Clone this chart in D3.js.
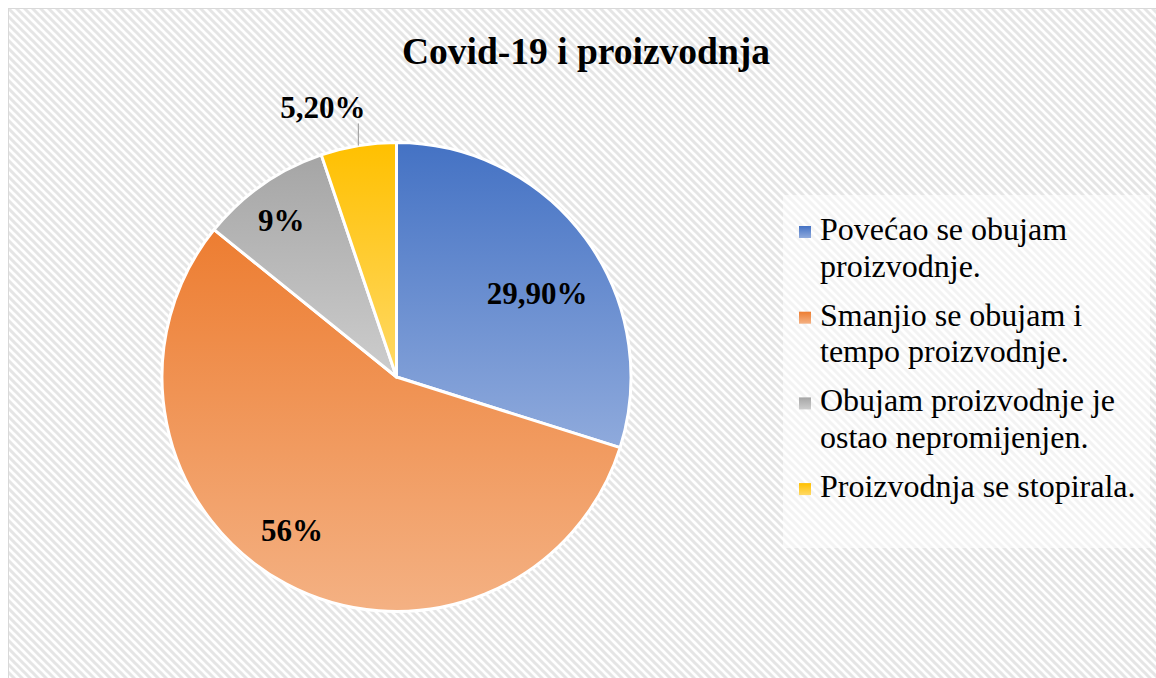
<!DOCTYPE html>
<html>
<head>
<meta charset="utf-8">
<script src="https://cdn.jsdelivr.net/npm/d3@7"></script>
<style>
  body { margin: 0; background: #fff; }
  svg { display: block; font-family: 'Liberation Serif', 'Times New Roman', serif; }
</style>
</head>
<body>
<div id="chart"></div>
<script>
// Covid-19 i proizvodnja - pie chart

const categories = [
    "Povećao se obujam proizvodnje.",
    "Smanjio se obujam i tempo proizvodnje.",
    "Obujam proizvodnje je ostao nepromijenjen.",
    "Proizvodnja se stopirala."
];
const legendLines = [
    ["Povećao se obujam", "proizvodnje."],
    ["Smanjio se obujam i", "tempo proizvodnje."],
    ["Obujam proizvodnje je", "ostao nepromijenjen."],
    ["Proizvodnja se stopirala."]
];
const values = [29.9, 56, 9, 5.2];
const valueLabels = ["29,90%", "56%", "9%", "5,20%"];

const width = 1156;
const height = 678;

// top / bottom colours of each slice gradient
const colorTop = ["#4472C4", "#ED7D31", "#A5A5A5", "#FFC000"];
const colorBottom = ["#8FAADC", "#F4B183", "#CDCDCD", "#FFD966"];

const svg = d3.select("#chart")
    .append("svg")
    .attr("width", width)
    .attr("height", height);

const defs = svg.append("defs");

// hatched chart background
const pat = defs.append("pattern")
    .attr("id", "hatch")
    .attr("patternUnits", "userSpaceOnUse")
    .attr("width", 8)
    .attr("height", 8);
pat.append("rect").attr("width", 8).attr("height", 8).attr("fill", "#fff");
pat.append("path")
    .attr("d", "M-2,-2 L10,10 M-2,6 L2,10 M6,-2 L10,2")
    .attr("stroke", "#e5e5e5")
    .attr("stroke-width", 3);

colorTop.forEach((c, i) => {
    const g = defs.append("linearGradient")
        .attr("id", "grad" + i)
        .attr("x1", 0).attr("y1", 0).attr("x2", 0).attr("y2", 1);
    g.append("stop").attr("offset", "0%").attr("stop-color", c);
    g.append("stop").attr("offset", "100%").attr("stop-color", colorBottom[i]);
});

svg.append("rect")
    .attr("x", 8.5).attr("y", 8.5)
    .attr("width", width).attr("height", height)
    .attr("fill", "url(#hatch)")
    .attr("stroke", "#d9d9d9")
    .attr("stroke-width", 1);

// title
svg.append("text")
    .attr("x", 586)
    .attr("y", 64)
    .attr("text-anchor", "middle")
    .style("font-size", "37.5px")
    .style("font-weight", "bold")
    .text("Covid-19 i proizvodnja");

// pie
const cx = 396.5, cy = 377, r = 234.5;

const pie = d3.pie().sort(null).value(d => d);
const arcs = pie(values);
const arc = d3.arc().innerRadius(0).outerRadius(r);

const g = svg.append("g").attr("transform", `translate(${cx},${cy})`);

g.selectAll("path.slice")
    .data(arcs)
    .join("path")
    .attr("class", "slice")
    .attr("d", arc)
    .attr("fill", (d, i) => `url(#grad${i})`)
    .attr("stroke", "#fff")
    .attr("stroke-width", 3)
    .attr("stroke-linejoin", "round");

// labels inside: radius fraction + small nudge per slice (Excel best fit)
const labelFrac = [0.69, 0.79, 0.83];
const labelNudge = [[10, 12], [-17, -10], [-4, 3]];
arcs.slice(0, 3).forEach((d, i) => {
    const a = (d.startAngle + d.endAngle) / 2;
    const lr = r * labelFrac[i];
    g.append("text")
        .attr("x", lr * Math.sin(a) + labelNudge[i][0])
        .attr("y", -lr * Math.cos(a) + labelNudge[i][1])
        .attr("dy", "0.35em")
        .attr("text-anchor", "middle")
        .style("font-size", "31px")
        .style("font-weight", "bold")
        .text(valueLabels[i]);
});

// outside label with leader line for the small slice
{
    const d = arcs[3];
    const a = (d.startAngle + d.endAngle) / 2;
    const ex = r * Math.sin(a), ey = -r * Math.cos(a);
    const topY = ey - 22;
    g.append("line")
        .attr("x1", ex).attr("y1", ey)
        .attr("x2", ex).attr("y2", topY)
        .attr("stroke", "#a6a6a6")
        .attr("stroke-width", 1.2);
    g.append("text")
        .attr("x", ex + 7)
        .attr("y", topY - 6)
        .attr("text-anchor", "end")
        .style("font-size", "31px")
        .style("font-weight", "bold")
        .text(valueLabels[3]);
}

// legend
svg.append("rect")
    .attr("x", 783).attr("y", 195)
    .attr("width", 367).attr("height", 353)
    .attr("fill", "#fff")
    .attr("opacity", 0.55);

const legend = svg.append("g").attr("transform", "translate(799,240)");
const item = legend.selectAll("g.item")
    .data(categories)
    .join("g")
    .attr("class", "item")
    .attr("transform", (d, i) => `translate(0,${i * 85.7})`);

item.append("rect")
    .attr("x", 0).attr("y", -14)
    .attr("width", 12).attr("height", 12)
    .attr("fill", (d, i) => `url(#grad${i})`);

item.append("text")
    .attr("x", 21)
    .style("font-size", "32px")
    .selectAll("tspan")
    .data((d, i) => legendLines[i])
    .join("tspan")
    .attr("x", 21)
    .attr("dy", (d, j) => j === 0 ? 0 : 36.5)
    .text(d => d);
</script>
</body>
</html>
